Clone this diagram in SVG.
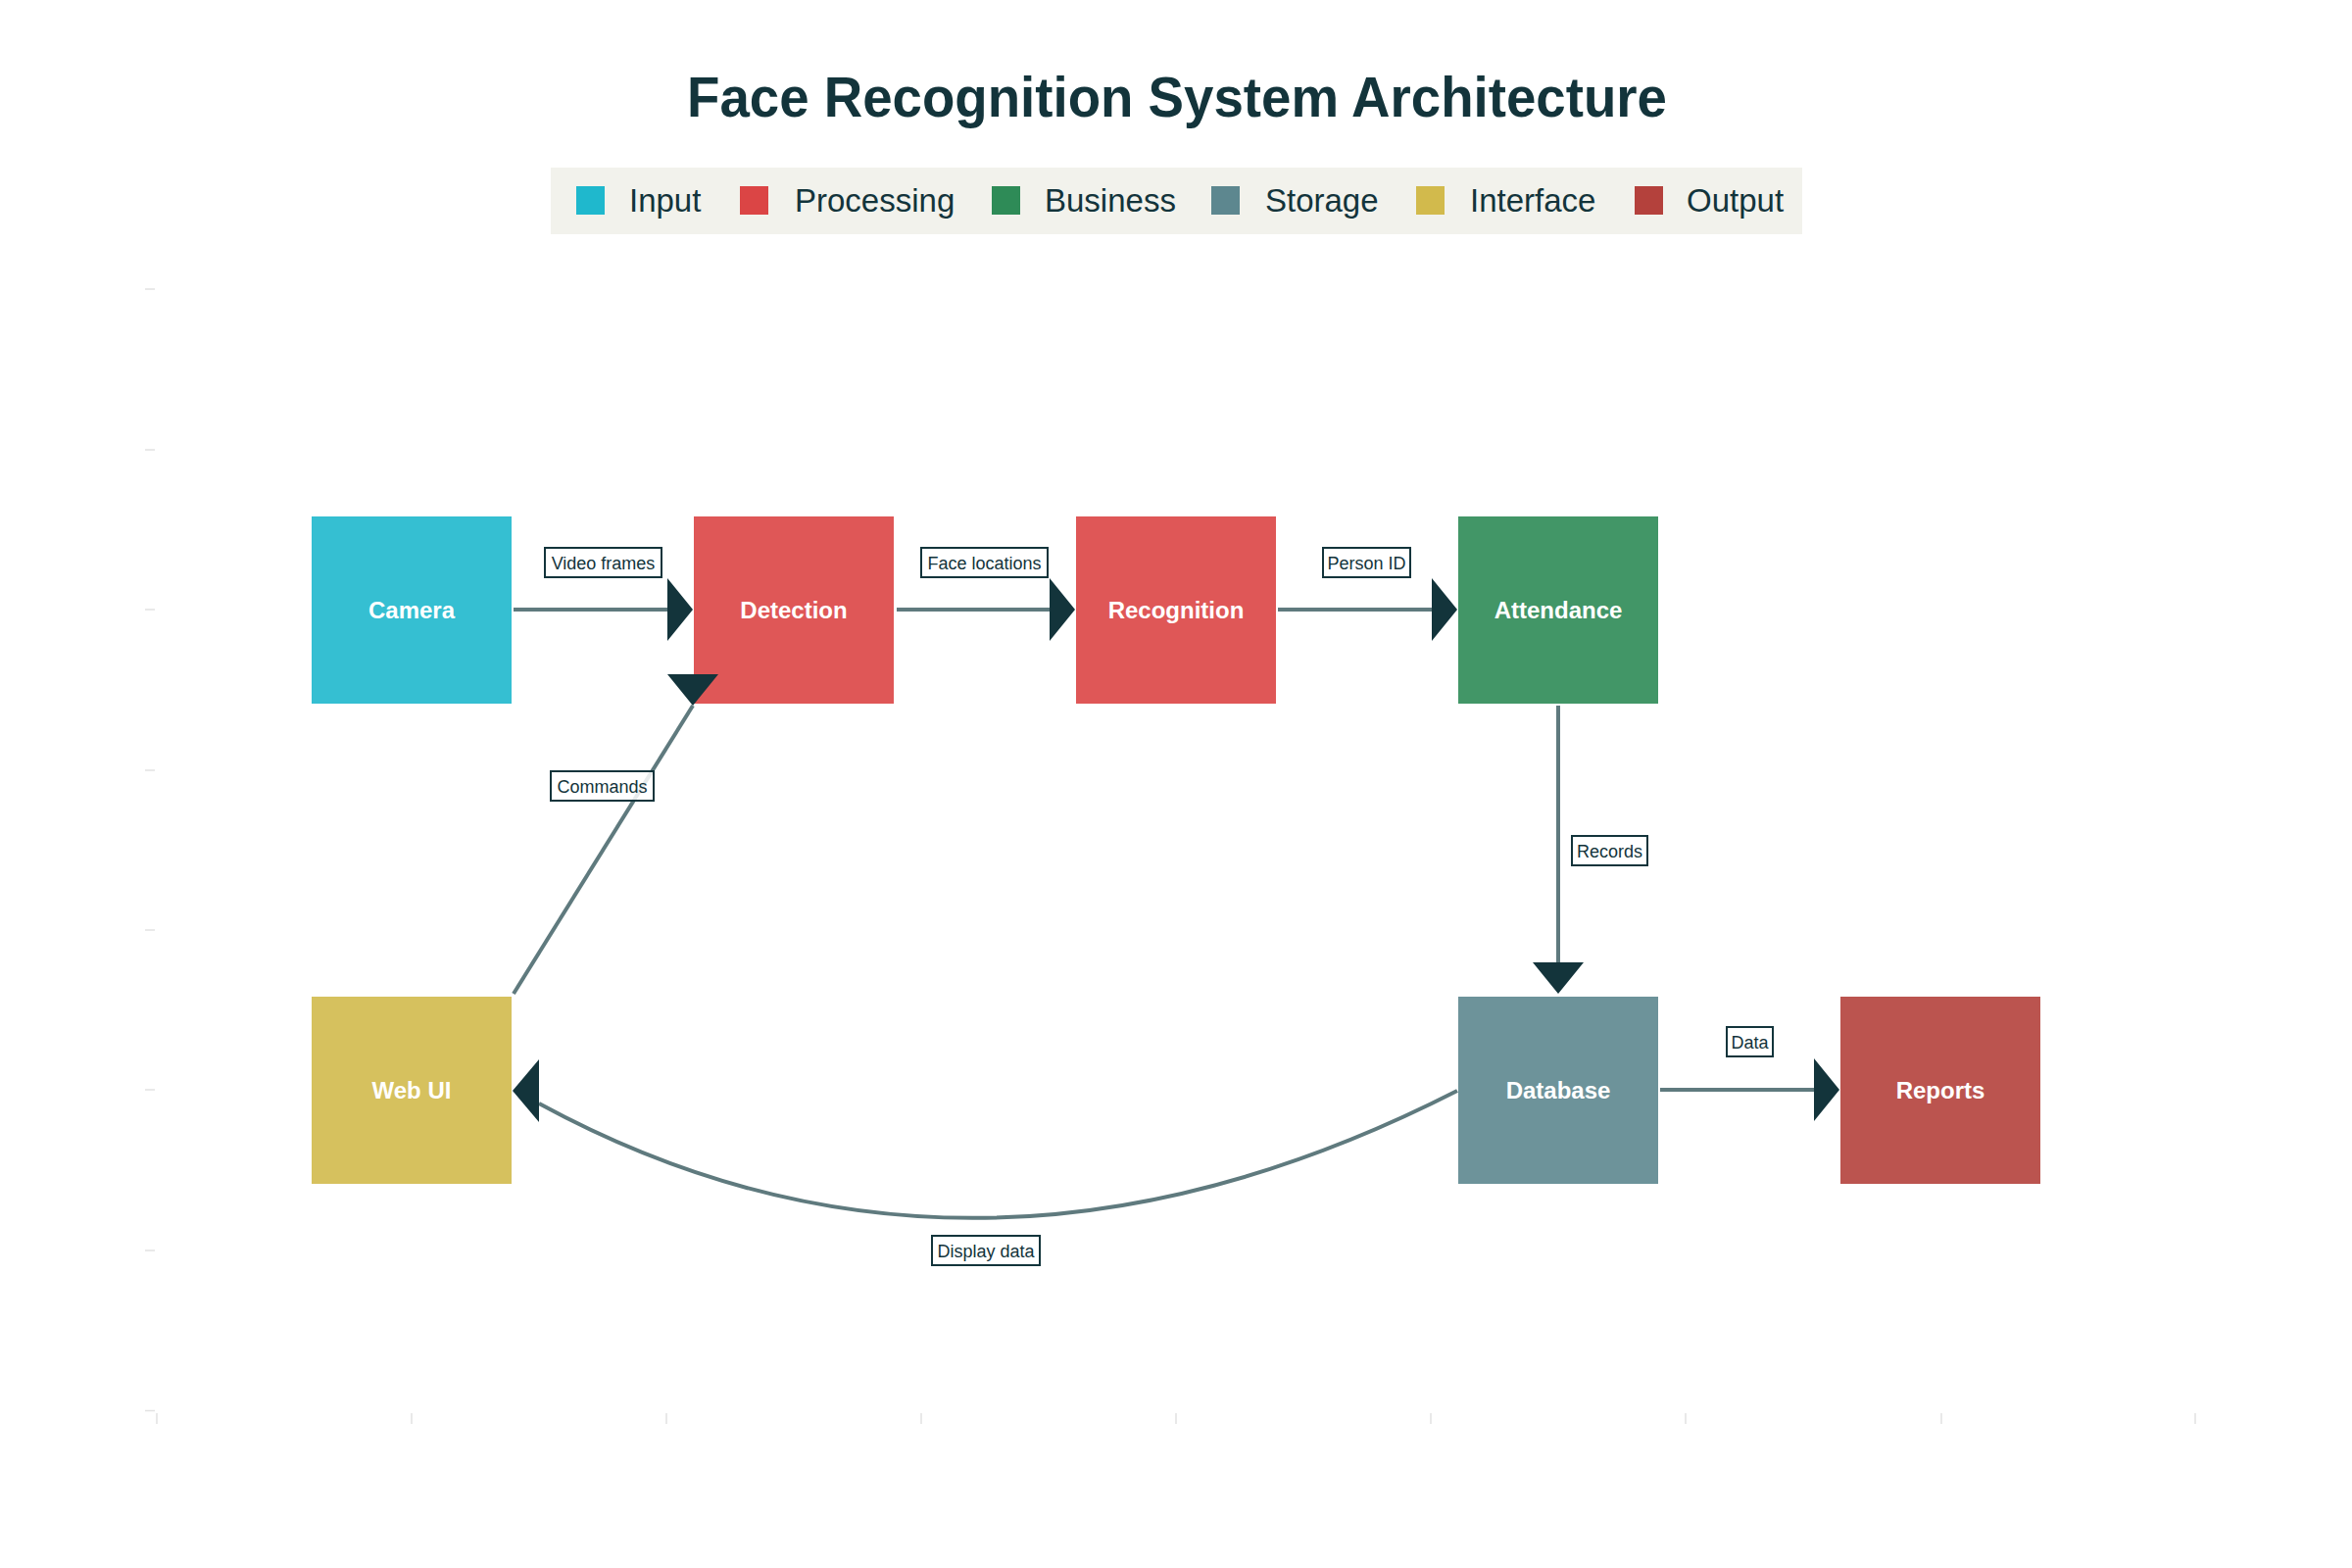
<svg xmlns="http://www.w3.org/2000/svg" width="2400" height="1600" viewBox="0 0 2400 1600">
<style>
.title{font-family:"Liberation Sans",Arial,sans-serif;font-weight:bold;fill:#13343B}
.leg{font-family:"Liberation Sans",Arial,sans-serif;font-size:33px;fill:#13343B}
.node rect{fill-opacity:0.9}
.node text{font-family:"Liberation Sans",Arial,sans-serif;font-size:24px;font-weight:bold;fill:#FFFFFF;text-anchor:middle}
.edge{fill:none;stroke:#5F7A7E;stroke-width:4}
.head{fill:#13343B}
.lbl rect{fill:#FFFFFF;fill-opacity:0.85;stroke:#13343B;stroke-width:2}
.lbl text{font-family:"Liberation Sans",Arial,sans-serif;font-size:18px;fill:#13343B;text-anchor:middle}
.tick{stroke:#E2E2E2;stroke-width:1.5}
</style>
<rect width="2400" height="1600" fill="#FFFFFF"/>
<g id="axes">
<path class="tick" d="M148 295H158M148 459H158M148 622H158M148 786H158M148 949H158M148 1112H158M148 1276H158M148 1439.5H158"/>
<path class="tick" d="M160 1442V1453M420 1442V1453M680 1442V1453M940 1442V1453M1200 1442V1453M1460 1442V1453M1720 1442V1453M1981 1442V1453M2240 1442V1453"/>
</g>
<text class="title" x="1201" y="119" font-size="57" text-anchor="middle" textLength="1000" lengthAdjust="spacingAndGlyphs">Face Recognition System Architecture</text>
<g id="legend">
<rect x="562" y="171" width="1277" height="68" fill="#F2F2EC"/>
<rect x="588" y="190" width="29" height="29" fill="#1FB8CD"/>
<text class="leg" x="642" y="216">Input</text>
<rect x="755" y="190" width="29" height="29" fill="#DB4545"/>
<text class="leg" x="811" y="216">Processing</text>
<rect x="1012" y="190" width="29" height="29" fill="#2E8B57"/>
<text class="leg" x="1066" y="216">Business</text>
<rect x="1236" y="190" width="29" height="29" fill="#5D878F"/>
<text class="leg" x="1291" y="216">Storage</text>
<rect x="1445" y="190" width="29" height="29" fill="#D2BA4C"/>
<text class="leg" x="1500" y="216">Interface</text>
<rect x="1668" y="190" width="29" height="29" fill="#B4413C"/>
<text class="leg" x="1721" y="216">Output</text>
</g>
<g id="node-camera" class="node"><rect x="318" y="527" width="204" height="191" fill="#1FB8CD"/><text x="420" y="631">Camera</text></g>
<g id="node-detection" class="node"><rect x="708" y="527" width="204" height="191" fill="#DB4545"/><text x="810" y="631">Detection</text></g>
<g id="node-recognition" class="node"><rect x="1098" y="527" width="204" height="191" fill="#DB4545"/><text x="1200" y="631">Recognition</text></g>
<g id="node-attendance" class="node"><rect x="1488" y="527" width="204" height="191" fill="#2E8B57"/><text x="1590" y="631">Attendance</text></g>
<g id="node-database" class="node"><rect x="1488" y="1017" width="204" height="191" fill="#5D878F"/><text x="1590" y="1121">Database</text></g>
<g id="node-reports" class="node"><rect x="1878" y="1017" width="204" height="191" fill="#B4413C"/><text x="1980" y="1121">Reports</text></g>
<g id="node-webui" class="node"><rect x="318" y="1017" width="204" height="191" fill="#D2BA4C"/><text x="420" y="1121">Web UI</text></g>
<g id="connectors">
<path class="edge" d="M524 622H682"/>
<polygon class="head" points="681,590 707,622 681,654"/>
<path class="edge" d="M915 622H1072"/>
<polygon class="head" points="1071,590 1097,622 1071,654"/>
<path class="edge" d="M1304 622H1462"/>
<polygon class="head" points="1461,590 1487,622 1461,654"/>
<path class="edge" d="M1590 720V983"/>
<polygon class="head" points="1564,982 1616,982 1590,1014"/>
<path class="edge" d="M1694 1112H1852"/>
<polygon class="head" points="1851,1080 1877,1112 1851,1144"/>
<path class="edge" d="M1487 1113Q991 1366 550 1126"/>
<polygon class="head" points="550,1081 523,1113 550,1145"/>
<path class="edge" d="M524 1014L707 720"/>
<polygon class="head" points="681,688 733,688 707,720"/>
</g>
<g id="edge-labels">
<g class="lbl"><rect x="556" y="559" width="119" height="30"/><text x="615.5" y="580.5">Video frames</text></g>
<g class="lbl"><rect x="940" y="559" width="129" height="30"/><text x="1004.5" y="580.5">Face locations</text></g>
<g class="lbl"><rect x="1350" y="559" width="89" height="30"/><text x="1394.5" y="580.5">Person ID</text></g>
<g class="lbl"><rect x="562" y="787" width="105" height="30"/><text x="614.5" y="808.5">Commands</text></g>
<g class="lbl"><rect x="1604" y="853" width="77" height="30"/><text x="1642.5" y="874.5">Records</text></g>
<g class="lbl"><rect x="1762" y="1048" width="47" height="30"/><text x="1785.5" y="1069.5">Data</text></g>
<g class="lbl"><rect x="951" y="1261" width="110" height="30"/><text x="1006" y="1282.5">Display data</text></g>
</g>
</svg>
